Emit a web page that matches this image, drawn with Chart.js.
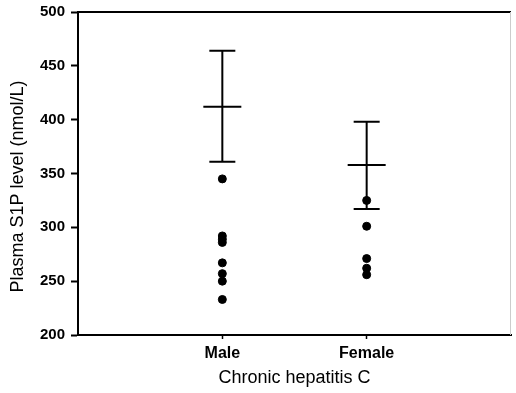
<!DOCTYPE html>
<html>
<head>
<meta charset="utf-8">
<script src="https://cdn.jsdelivr.net/npm/chart.js@4"></script>
<style>
html,body{margin:0;padding:0;background:#fff;}
#wrap{width:516px;height:393px;}
</style>
</head>
<body>
<div id="wrap"><canvas id="c" width="516" height="393"></canvas></div>
<script>
// categories on the x axis
const groups = ["Male", "Female"];
const groupX = [1, 2];

// individual points
const maleVals = [345, 292, 289, 286, 267, 257, 250, 233];
const femaleVals = [325, 301, 271, 262, 256];

// error bars: mean, upper, lower
const means = [412, 358];
const upper = [464, 398];
const lower = [361, 317];

const yTicks = [200, 250, 300, 350, 400, 450, 500];
const yTitle = "Plasma S1P level (nmol/L)";

const FONT = "Liberation Sans, Arial, sans-serif";

const pts = [];
maleVals.forEach(v => pts.push({x: groupX[0], y: v}));
femaleVals.forEach(v => pts.push({x: groupX[1], y: v}));

/* draws the mean line + SE whiskers through the scales */
const errorBars = {
  id: "errorBars",
  afterDatasetsDraw(chart) {
    const ctx = chart.ctx;
    const xs = chart.scales.x, ys = chart.scales.y;
    ctx.save();
    ctx.strokeStyle = "#000";
    ctx.lineWidth = 2;
    groupX.forEach((g, i) => {
      const px = xs.getPixelForValue(g);
      const top = ys.getPixelForValue(upper[i]);
      const bot = ys.getPixelForValue(lower[i]);
      const mid = ys.getPixelForValue(means[i]);
      ctx.beginPath();
      ctx.moveTo(px, top); ctx.lineTo(px, bot);
      ctx.moveTo(px - 13, top); ctx.lineTo(px + 13, top);
      ctx.moveTo(px - 13, bot); ctx.lineTo(px + 13, bot);
      ctx.moveTo(px - 19, mid); ctx.lineTo(px + 19, mid);
      ctx.stroke();
    });
    ctx.restore();
  }
};

/* frame: thick top, thin grey right, plus y title sitting a bit low like the scan */
const frame = {
  id: "frame",
  afterDraw(chart) {
    const a = chart.chartArea, ctx = chart.ctx;
    ctx.save();
    ctx.strokeStyle = "#000";
    ctx.lineWidth = 2;
    ctx.beginPath();
    ctx.moveTo(a.left, a.top); ctx.lineTo(a.right, a.top);
    ctx.stroke();
    ctx.strokeStyle = "#ccc";
    ctx.lineWidth = 1;
    ctx.beginPath();
    ctx.moveTo(a.right - 0.5, a.top); ctx.lineTo(a.right - 0.5, a.bottom);
    ctx.stroke();

    ctx.translate(18, (a.top + a.bottom) / 2 + 13);
    ctx.rotate(-Math.PI / 2);
    ctx.fillStyle = "#000";
    ctx.font = "18px " + FONT;
    ctx.textAlign = "center";
    ctx.textBaseline = "middle";
    ctx.fillText(yTitle, 0, 0);
    ctx.restore();
  }
};

new Chart(document.getElementById("c"), {
  type: "scatter",
  data: {
    datasets: [{
      data: pts,
      backgroundColor: "#000",
      borderColor: "#000",
      pointRadius: 4,
      pointHoverRadius: 4
    }]
  },
  options: {
    responsive: false,
    animation: false,
    events: [],
    layout: {padding: {top: 12, right: 1, left: 0, bottom: 0}},
    plugins: {legend: {display: false}, tooltip: {enabled: false}},
    scales: {
      x: {
        type: "linear",
        min: 0,
        max: 3,
        afterBuildTicks: s => { s.ticks = groupX.map(v => ({value: v})); },
        afterFit: s => { s.height = 58; s.paddingLeft = 0; s.paddingRight = 0; },
        ticks: {
          color: "#000",
          font: {family: FONT, size: 16, weight: "bold"},
          padding: 5,
          callback: v => groups[groupX.indexOf(v)] || ""
        },
        grid: {drawOnChartArea: false, tickLength: 4, color: "#000", tickWidth: 1.5},
        border: {color: "#000", width: 2},
        title: {
          display: true,
          text: "Chronic hepatitis C",
          color: "#000",
          font: {family: FONT, size: 18},
          padding: {top: 2}
        }
      },
      y: {
        min: 200,
        max: 500,
        afterBuildTicks: s => { s.ticks = yTicks.map(v => ({value: v})); },
        afterFit: s => { s.width = 78; s.paddingTop = 0; s.paddingBottom = 0; },
        ticks: {
          color: "#000",
          font: {family: FONT, size: 15, weight: "bold"},
          padding: 6
        },
        grid: {drawOnChartArea: false, tickLength: 7, color: "#000", tickWidth: 2},
        border: {color: "#000", width: 2},
        title: {display: false}
      }
    }
  },
  plugins: [errorBars, frame]
});
</script>
</body>
</html>
